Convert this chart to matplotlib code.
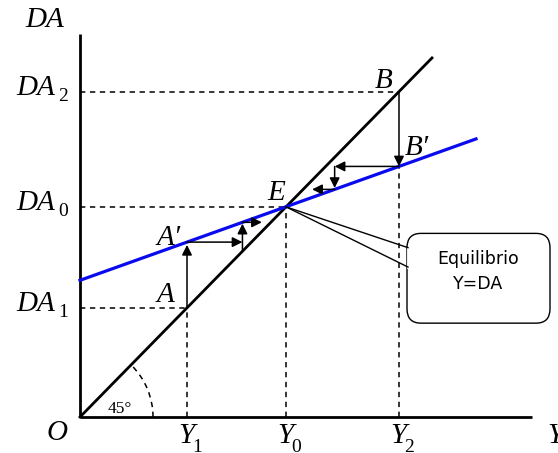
import numpy as np
import matplotlib
matplotlib.use("Agg")
import matplotlib.pyplot as plt
from matplotlib.patches import Arc, FancyBboxPatch

# income levels on the horizontal axis (Y1, Y0, Y2)
Y_LEVELS = [107, 206, 319]
Y_SUBS = ["1", "0", "2"]
# aggregate demand line DA = a + b*Y
DA_INTERCEPT = 134
DA_SLOPE = 0.35
DA_X_END = 396
LINE45_END = 352
X_AXIS_END = 452
Y_AXIS_END = 375
COBWEB_GAP = 9

SERIF = ["Liberation Serif", "DejaVu Serif"]
BLUE = "#0a0aee"


def demand(y):
    return DA_INTERCEPT + DA_SLOPE * y


def arrow(ax, start, end, shrink=0):
    ax.annotate("", xy=end, xytext=start,
                arrowprops=dict(arrowstyle="-|>", lw=1.1, color="black",
                                shrinkA=0, shrinkB=shrink, mutation_scale=15))


def label(ax, xy, text, dx, dy, size=21, ha="left", style="italic"):
    ax.annotate(text, xy=xy, xytext=(dx, -dy), textcoords="offset pixels",
                ha=ha, va="baseline", fontsize=size, fontstyle=style,
                family=SERIF, annotation_clip=False)


fig = plt.figure(figsize=(5.58, 4.53), dpi=100)
ax = fig.add_axes([0, 0, 1, 1])
ax.set_xlim(-80, 478)
ax.set_ylim(-35.3, 408.8)
ax.axis("off")

# axes
ax.plot([0, 0], [0, Y_AXIS_END], color="black", lw=2, solid_capstyle="butt")
ax.plot([0, X_AXIS_END], [0, 0], color="black", lw=2, solid_capstyle="butt")

# 45 degree line and demand line
ax.plot([0, LINE45_END], [0, LINE45_END], color="black", lw=2)
xs = np.array([0, DA_X_END])
ax.plot(xs, demand(xs), color=BLUE, lw=2.3, zorder=3)

dash = dict(color="black", lw=1.1, linestyle=(0, (3.5, 3)))
y1, y0, y2 = Y_LEVELS
for yv in (y1, y0, y2):
    ax.plot([0, yv], [yv, yv], **dash)
ax.plot([y1, y1], [0, y1], **dash)
ax.plot([y0, y0], [0, y0], **dash)
ax.plot([y2, y2], [0, demand(y2)], **dash)

# adjustment below equilibrium
x = y1
arrow(ax, (x, x), (x, demand(x)), shrink=2)
for step in range(2):
    top = demand(x)
    nx = top - COBWEB_GAP
    arrow(ax, (x, top), (nx, top))
    if step == 0:
        arrow(ax, (nx, nx), (nx, demand(nx)), shrink=1)
    x = nx

# adjustment above equilibrium
x = y2
arrow(ax, (x, x), (x, demand(x)))
for step in range(2):
    bot = demand(x)
    nx = bot + COBWEB_GAP
    arrow(ax, (x, bot), (nx, bot))
    if step == 0:
        arrow(ax, (nx, bot), (nx, demand(nx)), shrink=1)
    x = nx

# 45 degree arc
ax.add_patch(Arc((0, 0), 146, 143, theta1=0, theta2=45, color="black",
                 lw=1.1, linestyle=(0, (3.5, 3))))
label(ax, (0, 0), "45°", 28, -4, size=12.5, style="normal")

# axis labels
label(ax, (0, Y_AXIS_END), "DA", -55, -7)
label(ax, (X_AXIS_END, 0), "Y", 15, 26)
label(ax, (0, 0), "O", -12, 23, ha="right")
for yv, sub in zip(Y_LEVELS, Y_SUBS):
    label(ax, (yv, 0), "Y", -9, 26)
    label(ax, (yv, 0), sub, 5, 35, size=14, style="normal")
    label(ax, (0, yv), "DA", -25, 3, ha="right")
    label(ax, (0, yv), sub, -22, 9, size=14, style="normal")

# point labels
label(ax, (y1, y1), "A", -13, -6, ha="right")
label(ax, (y1, demand(y1)), "A′", -6, 3, ha="right")
label(ax, (y0, y0), "E", -1, -7, ha="right")
label(ax, (y2, y2), "B", -7, -4, ha="right")
label(ax, (y2, demand(y2)), "B′", 6, -11)

# callout for equilibrium
box = FancyBboxPatch((327, 92), 143, 88, boxstyle="round,pad=0,rounding_size=14",
                     facecolor="white", edgecolor="black", lw=1, zorder=4)
ax.add_patch(box)
tip_hi, tip_lo = (328, 166), (328, 147)
ax.plot([tip_hi[0], tip_lo[0]], [tip_hi[1], tip_lo[1]], color="white", lw=2, zorder=5)
ax.plot([y0, tip_hi[0]], [y0, tip_hi[1]], color="black", lw=1, zorder=5)
ax.plot([y0, tip_lo[0]], [y0, tip_lo[1]], color="black", lw=1, zorder=5)
ax.text(398, 143, "Equilibrio\nY=DA", ha="center", va="center", fontsize=12.5,
        family="DejaVu Sans", linespacing=1.5, zorder=6)

fig.savefig("out.png", dpi=100)
